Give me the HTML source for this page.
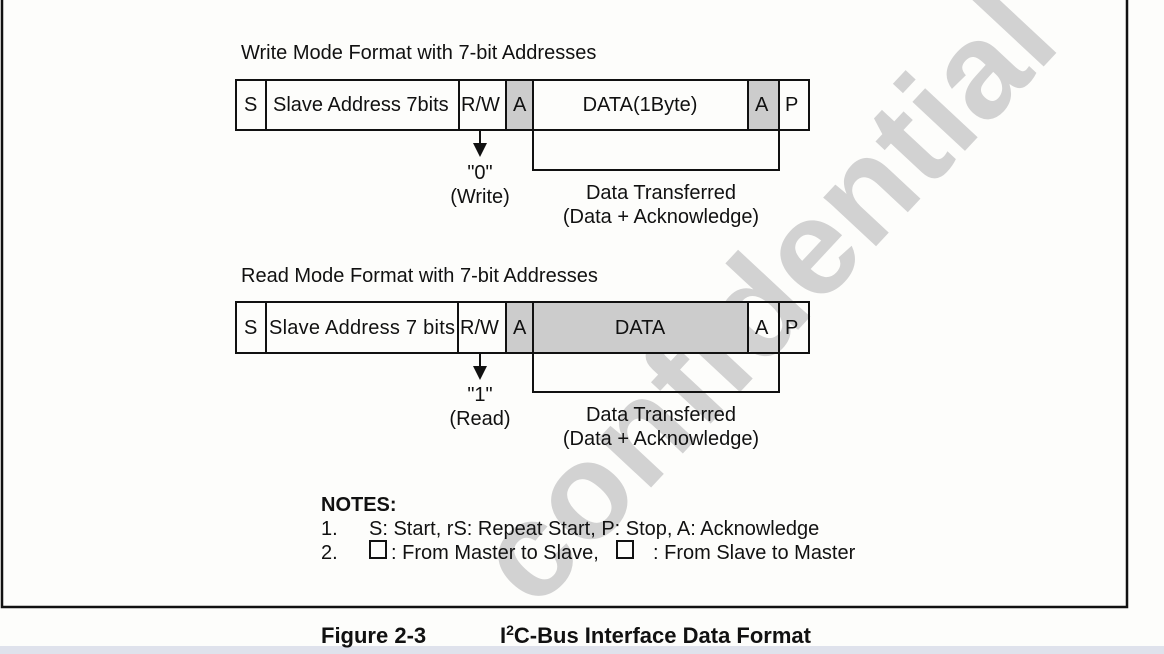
<!DOCTYPE html>
<html><head><meta charset="utf-8"><style>
html,body{margin:0;padding:0;background:#fdfdfb;}
svg{display:block;}
text{font-family:"Liberation Sans",sans-serif;fill:#111;}
</style></head><body>
<svg width="1164" height="654" viewBox="0 0 1164 654" xmlns="http://www.w3.org/2000/svg">
<rect width="1164" height="654" fill="#fdfdfb"/>
<!-- watermark -->
<text x="0" y="0" transform="translate(535,612) rotate(-47)" font-size="136" font-weight="bold" style="fill:#d2d2d2" letter-spacing="1">confidential</text>
<!-- frame -->
<rect x="2" y="-5" width="1125" height="612" fill="none" stroke="#111" stroke-width="2.5"/>
<rect x="0" y="646" width="1164" height="8" fill="#dfe2ec"/>

<g stroke="#111" stroke-width="2" fill="none">
<rect x="506" y="80" width="27" height="50" fill="#cccccc" stroke="none"/>
<rect x="748" y="80" width="31" height="50" fill="#cccccc" stroke="none"/>
<rect x="236" y="80" width="573" height="50"/>
<line x1="266" y1="80" x2="266" y2="130"/><line x1="459" y1="80" x2="459" y2="130"/>
<line x1="506" y1="80" x2="506" y2="130"/><line x1="533" y1="80" x2="533" y2="130"/>
<line x1="748" y1="80" x2="748" y2="130"/><line x1="779" y1="80" x2="779" y2="130"/>
<polyline points="533,130 533,170 779,170 779,130"/>
<line x1="480" y1="130" x2="480" y2="144"/>
<rect x="506" y="302" width="27" height="51" fill="#cccccc" stroke="none"/>
<rect x="533" y="302" width="215" height="51" fill="#cccccc" stroke="none"/>
<rect x="236" y="302" width="573" height="51"/>
<line x1="266" y1="302" x2="266" y2="353"/><line x1="458" y1="302" x2="458" y2="353"/>
<line x1="506" y1="302" x2="506" y2="353"/><line x1="533" y1="302" x2="533" y2="353"/>
<line x1="748" y1="302" x2="748" y2="353"/><line x1="779" y1="302" x2="779" y2="353"/>
<polyline points="533,353 533,392 779,392 779,353"/>
<line x1="480" y1="353" x2="480" y2="367"/>
</g>
<polygon points="473,143 487,143 480,157" fill="#111"/>
<polygon points="473,366 487,366 480,380" fill="#111"/>

<g font-size="20">
<text x="241" y="59">Write Mode Format with 7-bit Addresses</text>
<text x="244" y="111">S</text>
<text x="273" y="111">Slave Address 7bits</text>
<text x="461" y="111">R/W</text>
<text x="513" y="111">A</text>
<text x="640" y="111" text-anchor="middle">DATA(1Byte)</text>
<text x="755" y="111">A</text>
<text x="785" y="111">P</text>
<text x="480" y="179" text-anchor="middle">"0"</text>
<text x="480" y="203" text-anchor="middle">(Write)</text>
<text x="661" y="199" text-anchor="middle">Data Transferred</text>
<text x="661" y="223" text-anchor="middle">(Data + Acknowledge)</text>

<text x="241" y="282">Read Mode Format with 7-bit Addresses</text>
<text x="244" y="334">S</text>
<text x="269" y="334" textLength="186">Slave Address 7 bits</text>
<text x="460" y="334">R/W</text>
<text x="513" y="334">A</text>
<text x="640" y="334" text-anchor="middle">DATA</text>
<text x="755" y="334">A</text>
<text x="785" y="334">P</text>
<text x="480" y="401" text-anchor="middle">"1"</text>
<text x="480" y="425" text-anchor="middle">(Read)</text>
<text x="661" y="421" text-anchor="middle">Data Transferred</text>
<text x="661" y="445" text-anchor="middle">(Data + Acknowledge)</text>

<text x="321" y="511" font-weight="bold">NOTES:</text>
<text x="321" y="535">1.</text>
<text x="369" y="535">S: Start, rS: Repeat Start, P: Stop, A: Acknowledge</text>
<text x="321" y="559">2.</text>
<text x="391" y="559">: From Master to Slave,</text>
<text x="653" y="559">: From Slave to Master</text>
</g>
<rect x="370" y="541" width="16" height="17" fill="none" stroke="#111" stroke-width="2"/>
<rect x="617" y="541" width="16" height="17" fill="none" stroke="#111" stroke-width="2"/>
<text x="321" y="643" font-size="22" font-weight="bold">Figure 2-3</text>
<text x="500" y="643" font-size="22" font-weight="bold">I<tspan font-size="14" dy="-8">2</tspan><tspan dy="8">C-Bus Interface Data Format</tspan></text>
</svg>
</body></html>
